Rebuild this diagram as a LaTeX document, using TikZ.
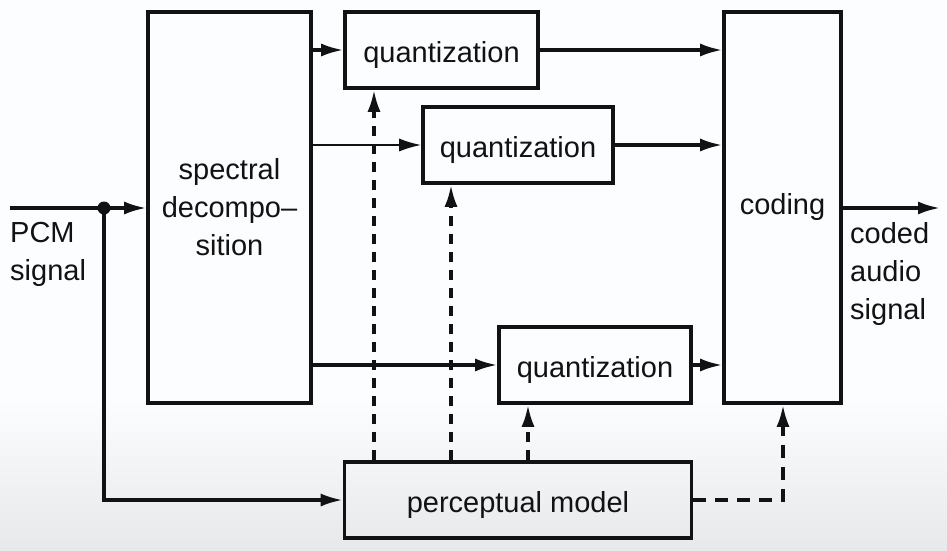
\documentclass[tikz,border=0pt]{standalone}
\usepackage{fontspec}
\setmainfont{Liberation Sans}
\usetikzlibrary{arrows.meta,calc}
\definecolor{ink}{RGB}{18,18,18}
\definecolor{bgtop}{RGB}{252,253,254}
\definecolor{bgbot}{RGB}{230,232,234}
\tikzset{
  box/.style={draw=ink, line width=3.6pt, inner sep=0pt, text=ink,
    font=\fontsize{29}{38}\selectfont, align=center},
  qbox/.style={box, minimum height=76pt, text depth=0pt},
  tip/.style={-{Latex[length=22pt,width=13pt]}},
  conn/.style={draw=ink, line width=3.2pt, tip},
  thinconn/.style={draw=ink, line width=1.8pt, tip},
  dasharrow/.style={draw=ink, line width=3.4pt, dash pattern=on 10pt off 8pt, tip},
  lbl/.style={text=ink, font=\fontsize{29}{38}\selectfont, align=left, inner sep=0pt},
}
\begin{document}
\begin{tikzpicture}[x=1pt,y=-1pt]
\useasboundingbox (0,0) rectangle (947,551);
\fill[bgtop] (0,0) rectangle (947,551);
\shade[top color=bgtop, bottom color=bgbot] (0,400) rectangle (947,551);

\node[box, minimum width=163pt, minimum height=391pt] (spec) at (229.5,207.5) {spectral\\decompo--\\sition};
\node[qbox, minimum width=193pt] (q1) at (441.5,50) {\raisebox{-3pt}{quantization}};
\node[qbox, minimum width=190pt] (q2) at (518,145) {\raisebox{-3pt}{quantization}};
\node[qbox, minimum width=192pt] (q3) at (595,365) {\raisebox{-3pt}{quantization}};
\node[box, minimum width=117pt, minimum height=391pt] (cod) at (782.5,207.5) {coding};
\node[qbox, minimum width=347pt] (perc) at (518,500) {\raisebox{-3pt}{perceptual model}};

\node[lbl, anchor=north west] (pcm) at (10,222) {PCM\\signal};
\node[lbl, anchor=north west] (cas) at (850,222) {coded\\audio\\signal};

\coordinate (in) at (10,208);
\coordinate (out) at (940,208);
\coordinate (d1) at (374,0);
\coordinate (d2) at (451,0);
\coordinate (d3) at (528,0);
\coordinate (d4) at (783,0);
\coordinate (corner) at (104,500);
\node[circle, fill=ink, inner sep=0pt, minimum size=13pt] (dot) at (104,208) {};

\draw[conn] (in) -- (spec.west |- in);
\draw[conn] (dot.center) -- (corner) -- (perc.west);

\draw[conn] (q1.west -| spec.east) -- (q1.west);
\draw[thinconn] (q2.west -| spec.east) -- (q2.west);
\draw[conn] (q3.west -| spec.east) -- (q3.west);

\draw[conn] (q1.east) -- (q1.east -| cod.west);
\draw[conn] (q2.east) -- (q2.east -| cod.west);
\draw[conn] (q3.east) -- (q3.east -| cod.west);

\draw[conn] (cod.east |- out) -- (out);

\draw[dasharrow] (perc.north -| d1) -- (q1.south -| d1);
\draw[dasharrow] (perc.north -| d2) -- (q2.south -| d2);
\draw[dasharrow] (perc.north -| d3) -- (q3.south -| d3);
\draw[dasharrow, dash pattern=on 13pt off 9pt] (perc.east) -| (cod.south -| d4);
\end{tikzpicture}
\end{document}
